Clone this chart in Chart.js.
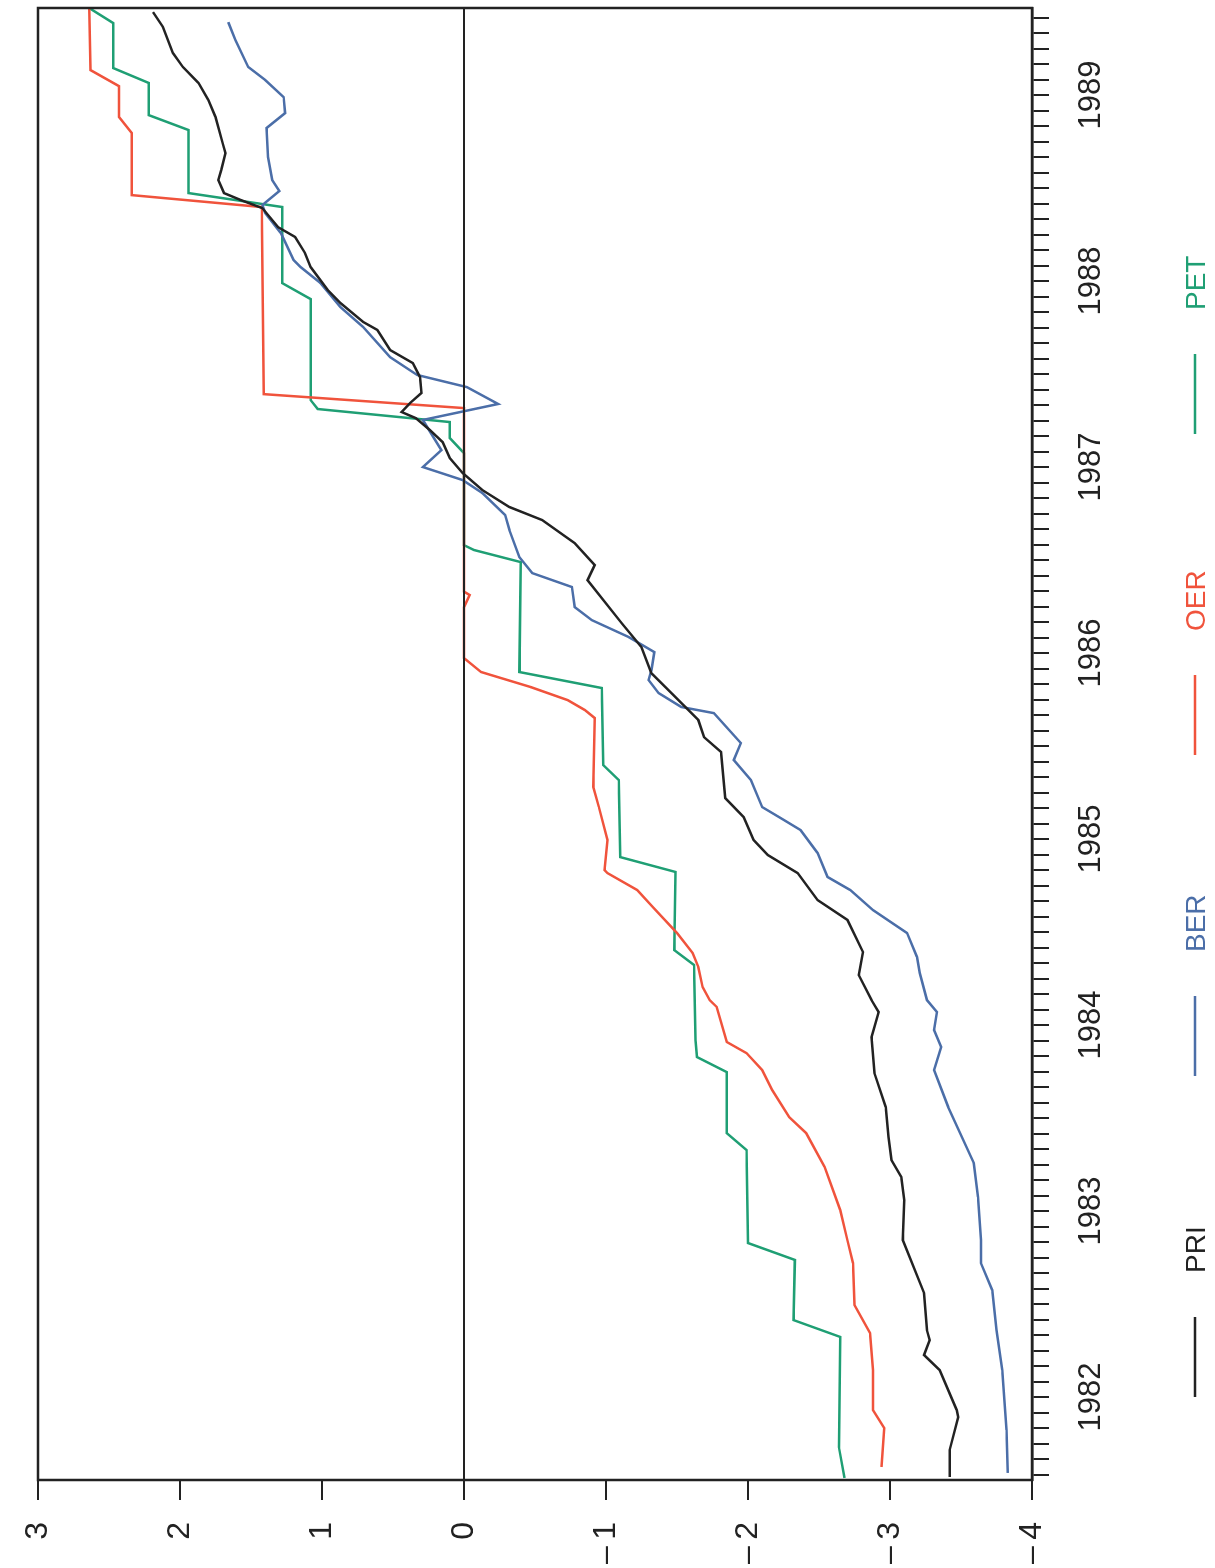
<!DOCTYPE html>
<html>
<head>
<meta charset="utf-8">
<script src="https://cdn.jsdelivr.net/npm/chart.js@4.4.1/dist/chart.umd.min.js"></script>
<style>
  html, body { margin: 0; padding: 0; background: #fff; overflow: hidden; }
  body { width: 1215px; height: 1568px; position: relative; }
  /* the chart is drawn landscape and turned a quarter left, like the scanned page */
  #wrap { position: absolute; left: 0; top: 0; width: 1568px; height: 1215px;
          transform-origin: 0 0; transform: translate(0, 1568px) rotate(-90deg); }
</style>
</head>
<body>
<div id="wrap"><canvas id="chart" width="1568" height="1215"></canvas></div>
<script>
const yearLabels = [1982, 1983, 1984, 1985, 1986, 1987, 1988, 1989];
const valueTicks = [3, 2, 1, 0, -1, -2, -3, -4];
const seriesNames = ["PRI", "BER", "OER", "PET"];

// [year, value]
const pri = [
  [1989.446, 2.19], [1989.366, 2.12], [1989.226, 2.05], [1989.151, 1.98], [1989.065, 1.87],
  [1988.973, 1.80], [1988.882, 1.75], [1988.742, 1.70], [1988.688, 1.68], [1988.597, 1.71],
  [1988.543, 1.73], [1988.473, 1.69], [1988.435, 1.57], [1988.392, 1.42], [1988.290, 1.31],
  [1988.237, 1.19], [1988.151, 1.12], [1988.075, 1.08], [1987.952, 0.96], [1987.882, 0.87],
  [1987.780, 0.71], [1987.737, 0.61], [1987.629, 0.52], [1987.559, 0.36], [1987.484, 0.31],
  [1987.398, 0.30], [1987.344, 0.38], [1987.296, 0.44], [1987.263, 0.34], [1987.199, 0.24],
  [1987.134, 0.15], [1987.048, 0.10], [1986.968, 0.01], [1986.876, -0.13], [1986.785, -0.32],
  [1986.715, -0.55], [1986.591, -0.78], [1986.473, -0.92], [1986.392, -0.87], [1986.161, -1.11],
  [1986.032, -1.25], [1985.892, -1.32], [1985.785, -1.46], [1985.640, -1.65], [1985.548, -1.69],
  [1985.468, -1.81], [1985.220, -1.84], [1985.118, -1.97], [1984.995, -2.04], [1984.914, -2.14],
  [1984.817, -2.35], [1984.672, -2.49], [1984.565, -2.70], [1984.392, -2.81], [1984.269, -2.78],
  [1984.134, -2.87], [1984.070, -2.92], [1983.935, -2.87], [1983.742, -2.89], [1983.559, -2.97],
  [1983.398, -2.99], [1983.274, -3.01], [1983.183, -3.08], [1983.059, -3.10], [1982.844, -3.09],
  [1982.559, -3.24], [1982.360, -3.26], [1982.306, -3.28], [1982.226, -3.24], [1982.145, -3.35],
  [1981.930, -3.47], [1981.892, -3.48], [1981.715, -3.42], [1981.570, -3.42]
];
const ber = [
  [1989.392, 1.66], [1989.296, 1.61], [1989.151, 1.52], [1989.081, 1.40], [1988.989, 1.27],
  [1988.903, 1.26], [1988.823, 1.39], [1988.667, 1.38], [1988.543, 1.35], [1988.484, 1.30],
  [1988.409, 1.42], [1988.366, 1.40], [1988.258, 1.29], [1988.113, 1.20], [1988.075, 1.15],
  [1987.989, 1.01], [1987.860, 0.87], [1987.753, 0.71], [1987.591, 0.52], [1987.495, 0.33],
  [1987.430, -0.02], [1987.339, -0.24], [1987.253, 0.29], [1987.091, 0.16], [1987.000, 0.29],
  [1986.930, 0.01], [1986.860, -0.13], [1986.742, -0.29], [1986.661, -0.32], [1986.516, -0.39],
  [1986.430, -0.48], [1986.355, -0.76], [1986.247, -0.78], [1986.177, -0.90], [1986.086, -1.16],
  [1986.005, -1.34], [1985.909, -1.32], [1985.855, -1.30], [1985.785, -1.37], [1985.710, -1.53],
  [1985.677, -1.76], [1985.516, -1.95], [1985.425, -1.90], [1985.317, -2.02], [1985.172, -2.10],
  [1985.113, -2.23], [1985.048, -2.37], [1984.925, -2.49], [1984.796, -2.56], [1984.726, -2.72],
  [1984.618, -2.88], [1984.495, -3.12], [1984.366, -3.19], [1984.280, -3.21], [1984.134, -3.26],
  [1984.070, -3.33], [1983.973, -3.31], [1983.882, -3.36], [1983.758, -3.31], [1983.559, -3.41],
  [1983.258, -3.59], [1983.075, -3.62], [1982.844, -3.64], [1982.720, -3.64], [1982.575, -3.72],
  [1982.360, -3.75], [1982.145, -3.79], [1981.823, -3.82], [1981.592, -3.83]
];
const oer = [
  [1989.473, 2.64], [1989.134, 2.63], [1989.048, 2.43], [1988.882, 2.43], [1988.796, 2.34],
  [1988.462, 2.34], [1988.398, 1.425], [1987.392, 1.41], [1987.317, 0], [1986.330, 0],
  [1986.312, -0.04], [1986.247, 0], [1985.973, 0], [1985.898, -0.12], [1985.882, -0.19],
  [1985.817, -0.47], [1985.747, -0.73], [1985.694, -0.85], [1985.651, -0.92], [1985.280, -0.91],
  [1985.172, -0.95], [1984.995, -1.01], [1984.833, -0.99], [1984.817, -1.01], [1984.726, -1.22],
  [1984.634, -1.33], [1984.495, -1.50], [1984.387, -1.61], [1984.312, -1.65], [1984.204, -1.68],
  [1984.134, -1.73], [1984.097, -1.78], [1983.909, -1.85], [1983.849, -1.99], [1983.758, -2.10],
  [1983.651, -2.17], [1983.505, -2.29], [1983.419, -2.41], [1983.237, -2.54], [1983.005, -2.65],
  [1982.844, -2.70], [1982.720, -2.74], [1982.495, -2.75], [1982.344, -2.86], [1982.145, -2.88],
  [1981.930, -2.88], [1981.833, -2.96], [1981.624, -2.94]
];
const pet = [
  [1989.473, 2.65], [1989.387, 2.47], [1989.145, 2.47], [1989.065, 2.22], [1988.892, 2.22],
  [1988.812, 1.94], [1988.473, 1.94], [1988.398, 1.28], [1987.989, 1.28], [1987.903, 1.08],
  [1987.360, 1.08], [1987.312, 1.03], [1987.242, 0.10], [1987.156, 0.10], [1987.075, 0],
  [1986.580, 0], [1986.565, -0.04], [1986.554, -0.07], [1986.489, -0.40], [1985.898, -0.39],
  [1985.812, -0.97], [1985.398, -0.98], [1985.317, -1.09], [1984.903, -1.10], [1984.823, -1.49],
  [1984.403, -1.48], [1984.323, -1.62], [1983.919, -1.63], [1983.828, -1.64], [1983.747, -1.85],
  [1983.419, -1.85], [1983.328, -1.99], [1982.828, -2.00], [1982.737, -2.33], [1982.414, -2.32],
  [1982.323, -2.65], [1981.731, -2.64], [1981.565, -2.68]
];

const colors = ["#222222", "#4b6ea8", "#f0533c", "#1f9f74"];
const FONT = "'Liberation Sans', Arial, sans-serif";

const toPoints = (rows) => rows.map(([x, y]) => ({ x, y })).sort((a, b) => a.x - b.x);

// box round the plot area
const frame = {
  id: "frame",
  afterDraw(chart) {
    const { ctx, chartArea: a } = chart;
    ctx.save();
    ctx.strokeStyle = "#222";
    ctx.lineWidth = 2.5;
    ctx.strokeRect(a.left, a.top, a.right - a.left, a.bottom - a.top);
    ctx.restore();
  },
};

// legend in one row under the year labels: short line, gap, name
const legendRow = {
  id: "legendRow",
  afterDraw(chart) {
    const { ctx } = chart;
    ctx.save();
    ctx.font = "28px " + FONT;
    ctx.textBaseline = "middle";
    chart.data.datasets.forEach((ds, i) => {
      const x = 171 + i * 321;
      ctx.strokeStyle = ds.borderColor;
      ctx.lineWidth = 2.5;
      ctx.beginPath();
      ctx.moveTo(x, 1195);
      ctx.lineTo(x + 80, 1195);
      ctx.stroke();
      ctx.fillStyle = ds.borderColor;
      ctx.fillText(ds.label, x + 124, 1197);
    });
    ctx.restore();
  },
};

new Chart(document.getElementById("chart"), {
  type: "line",
  data: {
    datasets: [pri, ber, oer, pet].map((rows, i) => ({
      label: seriesNames[i],
      data: toPoints(rows),
      borderColor: colors[i],
      borderWidth: 2.5,
      pointRadius: 0,
      tension: 0,
      fill: false,
    })),
  },
  options: {
    responsive: false,
    animation: false,
    devicePixelRatio: 1,
    layout: { padding: { left: 0, right: 8, top: 38, bottom: 0 } },
    plugins: { legend: { display: false }, tooltip: { enabled: false } },
    scales: {
      x: {
        type: "linear",
        min: 1981.554,
        max: 1989.468,
        afterBuildTicks(scale) {
          const t = [];
          for (let m = Math.ceil(scale.min * 12); m <= Math.floor(scale.max * 12); m++) t.push({ value: m / 12 });
          scale.ticks = t;
        },
        afterFit(scale) {
          scale.height = 183;
          scale.paddingLeft = 0;
          scale.paddingRight = 0;
        },
        ticks: {
          autoSkip: false,
          maxRotation: 0,
          padding: 24,
          color: "#222",
          font: { family: FONT, size: 31 },
          callback: (v) => (yearLabels.includes(v) ? String(v) : ""),
        },
        grid: { drawOnChartArea: false, drawTicks: true, tickLength: 17, color: "#222", lineWidth: 2 },
        border: { display: true, color: "#222", width: 2.5 },
      },
      y: {
        min: -4,
        max: 3,
        afterBuildTicks(scale) { scale.ticks = valueTicks.map((v) => ({ value: v })); },
        afterFit(scale) {
          scale.width = 88;
          scale.paddingTop = 0;
          scale.paddingBottom = 0;
        },
        ticks: {
          padding: 22,
          color: "#222",
          font: { family: FONT, size: 32 },
          callback: (v) => (v < 0 ? "\u2013\u2009" + Math.abs(v) : String(v)),
        },
        grid: {
          z: 1,
          drawTicks: true,
          tickLength: 20,
          tickColor: "#222",
          lineWidth: 2,
          color: (c) => (c.tick && c.tick.value === 0 ? "#222" : "rgba(0,0,0,0)"),
        },
        // the frame plugin draws this side
        border: { display: false },
      },
    },
  },
  plugins: [frame, legendRow],
});
</script>
</body>
</html>
